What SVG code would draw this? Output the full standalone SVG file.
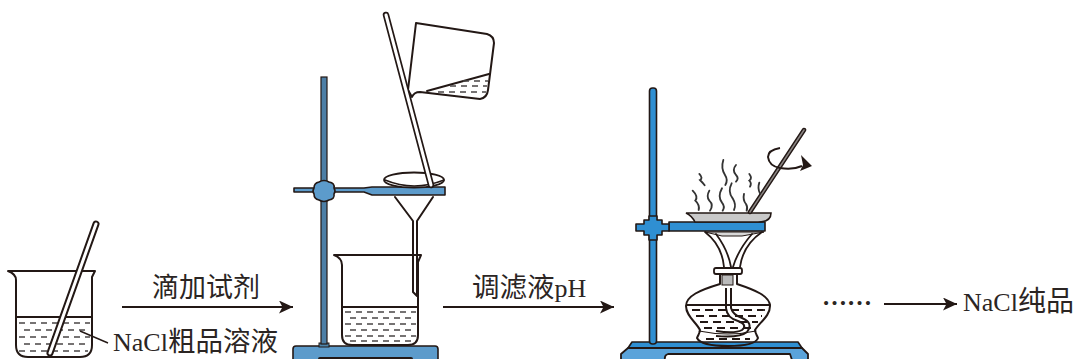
<svg xmlns="http://www.w3.org/2000/svg" width="1075" height="359" viewBox="0 0 1075 359">
<style>
.g{fill:none;stroke:#231815;stroke-width:2;stroke-linejoin:round;stroke-linecap:round}
.thin{fill:none;stroke:#231815;stroke-width:1.4}
.d{fill:none;stroke:#4a4645;stroke-width:1.3;stroke-dasharray:6 5}
.dk{fill:none;stroke:#231815;stroke-width:1.8;stroke-dasharray:8 5}
.s{fill:#5c9bcb;stroke:#231815;stroke-width:1.6;stroke-linejoin:round}
.b{fill:#2f8fd2;stroke:#231815;stroke-width:1.6;stroke-linejoin:round}
.w{fill:none;stroke:#333;stroke-width:5.500;stroke-linecap:round}
.t{font-family:"Liberation Serif","Noto Sans CJK SC",serif;font-size:26px;fill:#2b2523}
.c{stroke:#231815;stroke-width:2;fill:none}
</style>
<defs>
<marker id="ah" markerUnits="userSpaceOnUse" markerWidth="17" markerHeight="14" refX="14" refY="6.500" orient="auto"><path d="M0 0L14 6.500L0 13L3.500 6.500Z" fill="#231815"/></marker>
</defs>
<rect width="1075" height="359" fill="#fff"/>

<g id="beaker1">
<path class="g" d="M8 271H95L92 277V345Q92 357 80 357H28Q16 357 16 345V280Q16 274 8 271Z"/>
<path class="g" d="M16 317H92"/>
<g class="d"><path d="M19 323H90"/><path d="M24 330H90"/><path d="M19 337H90"/><path d="M24 344H90"/><path d="M19 351H88"/></g>
<path d="M96 224L50 353" fill="none" stroke="#231815" stroke-width="7" stroke-linecap="round"/>
<path d="M96 224L50 353" fill="none" stroke="#fff" stroke-width="3" stroke-linecap="round"/>
<path d="M80 331L108 343" class="thin"/>
</g>

<g id="connectors">
<path class="c" d="M122 307H293" marker-end="url(#ah)"/>
<path class="c" d="M443 307H614" marker-end="url(#ah)"/>
<path class="c" d="M884 304H957" marker-end="url(#ah)"/>
</g>

<g id="labels">
<text class="t" x="152" y="297" style="font-size:27px">滴加试剂</text>
<text class="t" x="113" y="351">NaCl<tspan style="font-size:27.500px">粗品溶液</tspan></text>
<text class="t" x="472" y="297"><tspan style="font-size:27.500px">调滤液</tspan>pH</text>
<text class="t" x="822" y="305" style="font-size:25px;font-family:'Liberation Serif',serif;font-weight:bold" textLength="50">……</text>
<text class="t" x="963" y="311">NaCl<tspan style="font-size:28px">纯品</tspan></text>
</g>

<g id="filter-stand">
<path class="s" d="M296 346H435Q438 346 438 349V362H293V349Q293 346 296 346Z"/>
<rect x="318" y="357" width="95" height="4" rx="2" fill="#231815"/>
<rect x="319" y="343" width="10" height="4" fill="#4d86ad" stroke="#231815"/>
<rect x="321" y="77" width="6" height="267" fill="#4d7fa6" stroke="#231815" stroke-width="1.2"/>
<path class="s" d="M294 188H364L372 187H445V195H372L364 192H294Z"/>
<path class="s" d="M319 182Q324 179 329 182Q335 183 334 188Q336 191 334 194Q335 199 329 200Q324 203 319 200Q314 199 314 194Q312 191 314 188Q314 183 319 182Z"/>
<ellipse cx="414" cy="180" rx="30" ry="7.500" fill="#fff" stroke="#231815" stroke-width="1.800"/>
<path class="g" d="M385 180Q414 192 444 180" style="stroke-width:1.500"/>
<path class="g" d="M395 197L413 221V292L417 296V221L433 197"/>
</g>

<g id="beaker2">
<path class="g" d="M334 255H421L418 262V335Q418 345 408 345H352Q342 345 342 335V265Q342 258 334 255Z"/>
<path class="g" d="M342 307H417"/>
<g class="d"><path d="M345 312H416"/><path d="M350 318H416"/><path d="M345 324H416"/><path d="M350 330H416"/><path d="M345 336H416"/><path d="M350 341H412"/></g>
</g>

<g id="pouring">
<path class="g" d="M416 23L487 34Q494 36 494 43L488 90Q487 98 480 99L420 92Q414 92 412 97L408 90Z"/>
<path class="g" d="M427 91L489 74"/>
<g class="d"><path d="M463 81H488"/><path d="M450 86H487"/><path d="M438 92H486"/></g>
<path d="M386 15L431 185" fill="none" stroke="#231815" stroke-width="6.500" stroke-linecap="round"/>
<path d="M386 15L431 185" fill="none" stroke="#fff" stroke-width="3" stroke-linecap="round"/>
</g>

<g id="evap-stand">
<path class="b" d="M628 348L632 342H798L802 348Z"/>
<path d="M628 348H802L808 354V360H792L790 354H668Q664 355 665 360H621V354Z" fill="#5aa3da" stroke="#231815" stroke-width="1.800" stroke-linejoin="round"/>
<rect class="b" x="649.500" y="88" width="7" height="256" rx="3"/>
<rect class="b" x="669" y="222" width="96" height="9"/>
<path class="b" d="M636 224H644V220H649V216H657V220H662V224H669V231H662V235H657V240H649V235H644V231H636Z"/>
</g>

<g id="evap-dish">
<path d="M686 213H771Q771 222 758 222H695Q692 216 686 213Z" fill="#c9c9c9" stroke="#231815" stroke-width="1.600"/>
<path d="M750 212L804 130" fill="none" stroke="#231815" stroke-width="4.500" stroke-linecap="round"/>
<path d="M750 212L804 130" fill="none" stroke="#8a8583" stroke-width="1.500" stroke-linecap="round"/>
<path d="M780 148Q768 150 768 157Q769 166 780 168Q793 170 802 166" fill="none" stroke="#231815" stroke-width="2"/>
<path d="M801 155L812 166L800 171L803 165Z" fill="#231815"/>
<g transform="translate(620,80) scale(.3333)">
<path class="w" d="M238 282Q250 295 240 300Q250 310 254 316"/>
<path class="w" d="M218 332Q236 350 226 362Q240 375 236 390"/>
<path class="w" d="M268 332Q258 350 268 362Q282 375 270 392"/>
<path class="w" d="M310 240Q302 265 315 285Q325 300 316 315"/>
<path class="w" d="M306 325Q292 350 306 368Q316 380 308 392"/>
<path class="w" d="M348 255Q335 270 348 285Q358 295 348 305"/>
<path class="w" d="M335 310Q322 335 338 355Q350 375 342 390"/>
<path class="w" d="M388 282Q398 295 388 302Q396 310 390 320"/>
<path class="w" d="M372 342Q368 360 378 372Q384 382 380 392"/>
<path class="w" d="M418 308Q412 325 420 340"/>
</g>
</g>

<g id="burner">
<path d="M705 232H764L742 236H722Z" fill="#d8d8d8" stroke="#231815" stroke-width="1"/>
<path class="g" style="stroke-width:1.800" d="M705 232Q722 245 724 267M762 232Q743 245 740 267M716 234Q728 250 731 267M752 234Q738 250 733 267"/>
<rect x="714" y="268" width="28" height="6" rx="2" fill="#fff" stroke="#231815" stroke-width="1.800"/>
<path class="g" d="M720 274V284C700 290 686 296 686 306C686 316 696 322 700 330C700 333 698 335 697 338C700 344 714 346 728 346C742 346 756 344 758 338C757 335 755 333 755 330C760 322 770 316 770 306C770 296 755 290 737 284V274"/>
<path class="g" d="M699 331Q728 337 756 331" style="stroke-width:1.200"/>
<rect x="722" y="275" width="11" height="10" fill="#bbb" stroke="#231815"/>
<path class="g" d="M687 305H770"/>
<g class="dk"><path d="M692 310H766"/><path d="M696 316H762"/><path d="M700 322H758"/><path d="M704 328H752"/><path d="M706 339H750"/></g>
<path d="M726 288V308Q727 318 738 321Q748 325 742 330Q735 334 716 331" fill="none" stroke="#231815" stroke-width="2"/>
<path d="M731 288V308Q733 315 742 318Q754 323 747 332Q740 338 716 336" fill="none" stroke="#231815" stroke-width="2"/>
</g>
</svg>
